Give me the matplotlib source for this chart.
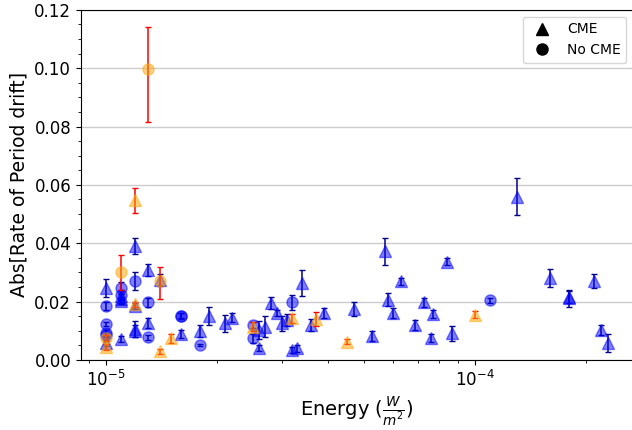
import numpy as np
import matplotlib
matplotlib.use("Agg")
from matplotlib import pyplot as plt
from matplotlib.lines import Line2D
from matplotlib.ticker import AutoMinorLocator

# CME events, blue (energy W/m^2, |rate of period drift|, error)
cme_energy = [1.0e-5, 1.0e-5, 1.1e-5, 1.1e-5, 1.1e-5, 1.1e-5, 1.2e-5, 1.2e-5, 1.2e-5, 1.2e-5,
              1.3e-5, 1.3e-5, 1.4e-5, 1.6e-5, 1.8e-5, 1.9e-5, 2.1e-5, 2.2e-5, 2.6e-5, 2.6e-5,
              2.7e-5, 2.8e-5, 2.9e-5, 3.0e-5, 3.1e-5, 3.2e-5, 3.3e-5, 3.4e-5, 3.6e-5, 3.9e-5,
              4.7e-5, 5.25e-5, 5.7e-5, 5.8e-5, 6.0e-5, 6.3e-5, 6.9e-5, 7.3e-5, 7.6e-5, 7.7e-5,
              8.4e-5, 8.7e-5, 1.3e-4, 1.6e-4, 1.8e-4, 1.8e-4, 2.1e-4, 2.2e-4, 2.3e-4]
cme_rate = [0.0246, 0.0058, 0.0210, 0.0220, 0.0203, 0.0073, 0.0390, 0.0185, 0.0105, 0.0098,
            0.0309, 0.0126, 0.0275, 0.0089, 0.0099, 0.0151, 0.0126, 0.0145, 0.0040, 0.0103,
            0.0114, 0.0194, 0.0160, 0.0126, 0.0137, 0.0034, 0.0040, 0.0263, 0.0120, 0.0160,
            0.0174, 0.0082, 0.0372, 0.0206, 0.0160, 0.0269, 0.0120, 0.0197, 0.0074, 0.0157,
            0.0337, 0.0091, 0.0560, 0.0280, 0.0211, 0.0215, 0.0272, 0.0103, 0.0057]
cme_err = [0.0030, 0.0010, 0.0015, 0.0015, 0.0012, 0.0010, 0.0027, 0.0010, 0.0027, 0.0020,
           0.0020, 0.0017, 0.0020, 0.0013, 0.0020, 0.0032, 0.0029, 0.0015, 0.0010, 0.0030,
           0.0035, 0.0020, 0.0011, 0.0026, 0.0020, 0.0010, 0.0012, 0.0045, 0.0020, 0.0017,
           0.0023, 0.0016, 0.0045, 0.0022, 0.0017, 0.0011, 0.0017, 0.0014, 0.0014, 0.0014,
           0.0013, 0.0026, 0.0064, 0.0030, 0.0030, 0.0020, 0.0024, 0.0016, 0.0031]

# no CME events, blue
nocme_energy = [1.0e-5, 1.0e-5, 1.0e-5, 1.0e-5, 1.1e-5, 1.1e-5, 1.2e-5, 1.3e-5, 1.3e-5,
                1.6e-5, 1.6e-5, 1.8e-5, 2.5e-5, 2.5e-5, 3.2e-5, 1.1e-4]
nocme_rate = [0.0185, 0.0123, 0.0092, 0.0085, 0.0246, 0.0223, 0.0270, 0.0197, 0.0077,
              0.0151, 0.0152, 0.0051, 0.0120, 0.0074, 0.0197, 0.0204]
nocme_err = [0.0015, 0.0007, 0.0010, 0.0008, 0.0020, 0.0015, 0.0030, 0.0015, 0.0010,
             0.0010, 0.0008, 0.0005, 0.0010, 0.0015, 0.0026, 0.0008]

# CME events, orange
cme2_energy = [1.0e-5, 1.2e-5, 1.2e-5, 1.4e-5, 1.5e-5, 2.5e-5, 3.2e-5, 3.7e-5, 4.5e-5, 1.0e-4]
cme2_rate = [0.0045, 0.0547, 0.0190, 0.0029, 0.0074, 0.0114, 0.0143, 0.0140, 0.0063, 0.0154]
cme2_err = [0.0010, 0.0043, 0.0010, 0.0008, 0.0015, 0.0015, 0.0015, 0.0023, 0.0010, 0.0012]

# no CME events, orange (lower / upper errors)
nocme2_energy = [1.0e-5, 1.1e-5, 1.3e-5, 1.4e-5]
nocme2_rate = [0.0075, 0.0300, 0.0998, 0.0269]
nocme2_err_lo = [0.0010, 0.0059, 0.0184, 0.0060]
nocme2_err_hi = [0.0010, 0.0061, 0.0145, 0.0048]

blue = (0, 0, 1, 0.5)
orange = (1, 0.647, 0, 0.5)

fig, ax = plt.subplots(figsize=(6.32, 4.30), dpi=100)

ax.errorbar(cme_energy, cme_rate, yerr=cme_err, fmt='^', mfc=blue, mec=blue,
            ms=8, ecolor='darkblue', capsize=2, elinewidth=1.1, zorder=3)
ax.errorbar(nocme_energy, nocme_rate, yerr=nocme_err, fmt='o', mfc=blue, mec=blue,
            ms=8, ecolor='darkblue', capsize=2, elinewidth=1.1, zorder=3)
ax.errorbar(cme2_energy, cme2_rate, yerr=cme2_err, fmt='^', mfc=orange, mec=orange,
            ms=8, ecolor='red', capsize=2, elinewidth=1.1, zorder=4)
ax.errorbar(nocme2_energy, nocme2_rate, yerr=[nocme2_err_lo, nocme2_err_hi], fmt='o',
            mfc=orange, mec=orange, ms=8, ecolor='red', capsize=2, elinewidth=1.1, zorder=4)

ax.set_xscale('log')
ax.set_ylim(0, 0.12)
ax.yaxis.set_minor_locator(AutoMinorLocator(4))
ax.grid(axis='y', color='#cccccc', linewidth=1)
ax.set_axisbelow(True)
ax.tick_params(labelsize=12)
ax.set_xlabel(r'Energy ($\frac{W}{m^2}$)', fontsize=14)
ax.set_ylabel('Abs[Rate of Period drift]', fontsize=13.5)

handles = [Line2D([], [], marker='^', color='black', ls='none', ms=8, label='CME'),
           Line2D([], [], marker='o', color='black', ls='none', ms=8, label='No CME')]
ax.legend(handles=handles, loc='upper right', fontsize=10)

plt.subplots_adjust(left=0.128, right=1.002, bottom=0.163, top=0.977)
plt.savefig("out.png", dpi=100)
